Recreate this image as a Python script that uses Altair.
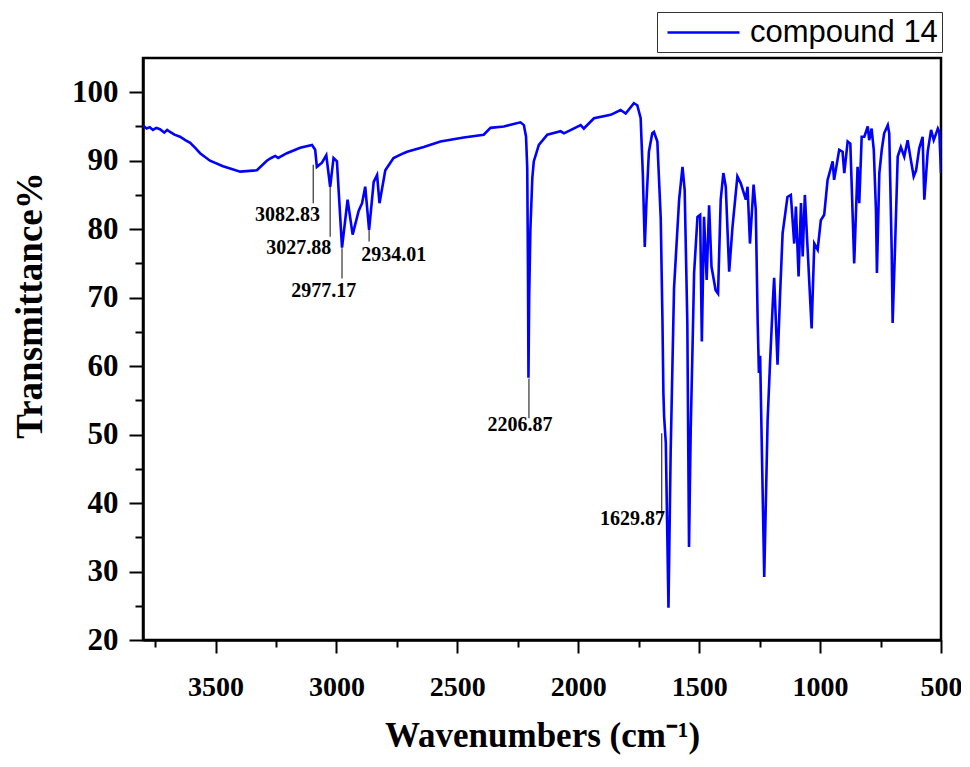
import altair as alt
import pandas as pd

# ---- spectrum ----
wavenumber = [
    3799, 3785, 3772, 3759, 3745, 3730, 3712, 3700, 3688, 3670, 3647, 3625, 3605, 3585,
    3564, 3523, 3469, 3398, 3329, 3288, 3270, 3253, 3241,
    3205, 3150, 3101, 3088, 3081, 3060, 3042, 3026, 3012, 2998, 2977, 2954, 2933, 2908,
    2894, 2881, 2865, 2846, 2832, 2822, 2798, 2764, 2722, 2708, 2639, 2570, 2474, 2391,
    2363, 2308, 2239, 2225, 2216, 2211, 2208, 2206, 2203, 2198, 2190, 2184, 2163, 2128,
    2073, 2059, 1990, 1977, 1935, 1866, 1825, 1804, 1770, 1756, 1742, 1733, 1725, 1718,
    1708, 1694, 1687, 1673, 1659, 1652, 1648, 1645, 1638, 1627, 1618, 1611, 1604, 1583,
    1569, 1560, 1549, 1542, 1535, 1528, 1521, 1507, 1496, 1489, 1480, 1469, 1459, 1449,
    1432, 1422, 1411, 1400, 1390, 1376, 1362, 1342, 1328, 1307, 1300, 1290, 1275, 1266,
    1258, 1253, 1248, 1231, 1217, 1207, 1195, 1190, 1183, 1176, 1166, 1155, 1135, 1121,
    1107, 1100, 1089, 1079, 1072, 1063, 1052, 1035, 1024, 1010, 997, 983, 969, 948,
    942, 921, 907, 900, 886, 875, 870, 859, 845, 838, 828, 817, 803, 797,
    787, 778, 769, 765, 755, 745, 735, 720, 714, 704, 700, 690, 679, 666,
    652, 638, 627, 613, 603, 590, 576, 569, 555, 541, 530, 520, 513, 507, 500,
]
transmittance = [
    95.1, 94.7, 94.9, 94.5, 94.8, 94.6, 94.1, 94.5, 94.2, 93.8, 93.5, 93.0, 92.6, 91.9,
    91.1, 90.0, 89.2, 88.4, 88.6, 90.0, 90.4, 90.7, 90.4,
    91.1, 91.9, 92.3, 91.6, 89.1, 89.7, 90.8, 86.2, 90.4, 89.9, 77.3, 84.3, 79.2, 82.7,
    83.8, 86.2, 79.9, 86.9, 87.9, 83.8, 88.6, 90.4, 91.1, 91.3, 92.0, 92.8, 93.4, 93.8,
    94.8, 95.0, 95.6, 95.2, 93.5, 88.9, 74.0, 58.3, 70.0, 80.0, 87.5, 89.9, 92.3, 93.8,
    94.3, 94.0, 95.2, 94.7, 96.2, 96.7, 97.4, 96.9, 98.4, 98.1, 96.2, 88.0, 77.4, 84.0,
    91.3, 94.0, 94.2, 92.8, 81.6, 67.0, 56.1, 52.6, 48.8, 24.7, 47.3, 59.4, 71.4, 84.3,
    89.1, 85.7, 66.3, 33.6, 50.7, 61.9, 73.6, 81.8, 82.1, 63.6, 81.8, 72.6, 83.5, 74.5,
    71.1, 70.6, 84.3, 88.2, 86.2, 73.8, 80.4, 87.7, 86.7, 84.3, 86.2, 77.9, 86.5, 82.9,
    66.3, 59.0, 61.5, 29.2, 52.1, 60.5, 69.7, 72.9, 66.7, 60.2, 70.0, 79.4, 84.7, 85.0,
    77.9, 83.3, 73.1, 83.8, 76.0, 85.0, 77.4, 65.5, 77.9, 77.0, 81.3, 82.1, 87.2, 89.9,
    87.2, 91.6, 91.3, 88.2, 92.8, 92.5, 87.2, 75.0, 89.1, 83.8, 93.5, 93.5, 95.0, 93.0,
    94.7, 91.6, 82.8, 73.6, 88.2, 91.6, 94.0, 95.2, 94.0, 77.0, 66.3, 77.4, 90.6, 92.0,
    90.6, 93.0, 90.6, 87.7, 88.6, 91.8, 93.5, 84.3, 91.3, 94.5, 93.0, 94.0, 94.7, 94.2, 88.2,
]
series_name = "compound 14"

# ---- peak annotations ----
peak_labels = ["3082.83", "3027.88", "2977.17", "2934.01", "2206.87", "1629.87"]
label_wn = [3202, 3156, 3053, 2763, 2241, 1776]
label_t = [82.0, 77.3, 70.9, 76.2, 51.4, 37.6]
leader_wn = [3096, 3026, 2977, 2865, 2204, 1655]
leader_top = [89.4, 86.2, 77.2, 79.9, 58.2, 50.2]
leader_bottom = [83.8, 78.9, 72.8, 78.2, 52.4, 38.0]

# ---- axes ----
x_domain = [500, 3800]
y_domain = [20, 105]
x_tick_values = list(range(500, 3751, 250))
y_tick_values = list(range(20, 101, 5))

spec_df = pd.DataFrame({"wn": wavenumber, "T": transmittance, "series": series_name})
lead_df = pd.DataFrame({"wn": leader_wn, "T": leader_top, "T2": leader_bottom})
text_df = pd.DataFrame({"wn": label_wn, "T": label_t, "label": peak_labels})

SERIF = "Liberation Serif"

x_axis = alt.Axis(
    values=x_tick_values, format="d",
    labelExpr="datum.value % 500 === 0 ? datum.label : ''",
    tickSize={"condition": {"test": "datum.value % 500 === 0", "value": 13}, "value": 7},
    tickWidth=2, tickColor="black",
    domainColor="black", domainWidth=2.5,
    labelFont=SERIF, labelFontWeight="bold", labelFontSize=28, labelColor="black",
    labelPadding=20, labelFlush=False, labelOverlap=False,
    title="Wavenumbers (cm\u207b\u00b9)",
    titleFont=SERIF, titleFontWeight="bold", titleFontSize=35, titleColor="black",
    titlePadding=17, grid=False,
)
y_axis = alt.Axis(
    values=y_tick_values, format="d",
    labelExpr="datum.value % 10 === 0 ? datum.label : ''",
    tickSize={"condition": {"test": "datum.value % 10 === 0", "value": 14}, "value": 8},
    tickWidth=2, tickColor="black",
    domainColor="black", domainWidth=2.5,
    labelFont=SERIF, labelFontWeight="bold", labelFontSize=31, labelColor="black",
    labelPadding=11, labelFlush=False, labelOverlap=False,
    title="Transmittance%",
    titleFont=SERIF, titleFontWeight="bold", titleFontSize=37, titleColor="black",
    titlePadding=22, titleY=247, grid=False,
)

x_enc = alt.X("wn:Q", scale=alt.Scale(domain=x_domain, reverse=True, nice=False, zero=False), axis=x_axis)
y_enc = alt.Y("T:Q", scale=alt.Scale(domain=y_domain, nice=False, zero=False), axis=y_axis)

line = alt.Chart(spec_df).mark_line(strokeWidth=2.6, clip=True).encode(
    x=x_enc,
    y=y_enc,
    order=alt.Order("wn:Q", sort="descending"),
    color=alt.Color(
        "series:N",
        scale=alt.Scale(range=["#0000ff"]),
        legend=alt.Legend(
            title=None, orient="none", legendX=514, legendY=-46,
            symbolType="M-2.4,0H2.4", symbolSize=900, symbolStrokeWidth=2.5,
            symbolOffset=26, labelOffset=30, padding=4, labelLimit=400,
            labelFont="Liberation Sans", labelFontSize=31, labelColor="black",
            strokeColor="#333333", fillColor="white", cornerRadius=0,
        ),
    ),
)

leaders = alt.Chart(lead_df).mark_rule(color="#333333", strokeWidth=1.2).encode(
    x=x_enc, y=y_enc, y2="T2:Q"
)

labels = alt.Chart(text_df).mark_text(
    font=SERIF, fontWeight="bold", fontSize=20, color="black", baseline="middle", align="center"
).encode(x=x_enc, y=y_enc, text="label:N")

chart = (
    alt.layer(line, leaders, labels)
    .properties(
        width=798, height=582,
        autosize=alt.AutoSizeParams(type="none"),
        padding={"left": 135, "top": 50, "right": 20, "bottom": 118},
        background="white",
    )
    .configure_view(stroke="black", strokeWidth=2.5)
)

chart.save("out.html", embed_options={"renderer": "svg", "actions": False})
